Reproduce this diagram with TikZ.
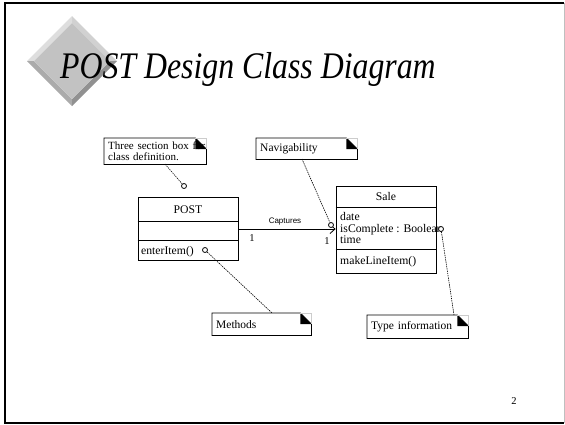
\documentclass[tikz,border=0pt]{standalone}
\usepackage{fontspec}
\setmainfont{Liberation Serif}
\newfontfamily\arialfont{Liberation Sans}
\usetikzlibrary{arrows.meta,backgrounds}
\newcommand{\umlfold}[1]{%
  \begin{scope}[on background layer]
    \filldraw[fill=white, draw=black, line width=0.8pt] (#1.north west) -- ([xshift=-11pt]#1.north east) -- ([yshift=-11pt]#1.north east) -- (#1.south east) -- (#1.south west) -- cycle;
    \fill ([xshift=-11pt]#1.north east) -- ([yshift=-11pt]#1.north east) -- ([xshift=-11pt,yshift=-11pt]#1.north east) -- cycle;
    \draw[black!20, line width=0.6pt] ([xshift=-11pt]#1.north east) -- (#1.north east) -- ([yshift=-11pt]#1.north east);
  \end{scope}}
\begin{document}
\begin{tikzpicture}[x=1pt,y=-1pt,
  umlnote/.style={rectangle, anchor=north west, inner xsep=4pt, inner ysep=1pt, align=left,
    font=\fontsize{11.5}{10.5}\selectfont},
  classbox/.style={rectangle, draw, line width=0.8pt, inner sep=0pt},
  classline/.style={line width=0.8pt},
  classtext/.style={font=\fontsize{11.7}{12}\selectfont, inner sep=0pt},
  pinc/.style={circle, draw, fill=white, line width=0.8pt, minimum size=5pt, inner sep=0pt},
  noteline/.style={line width=0.6pt, dash pattern=on 1.4pt off 0.9pt},
  assoc/.style={line width=0.8pt, -{Straight Barb[length=5pt,width=9pt]}},
  mult/.style={font=\fontsize{10.5}{12}\selectfont, inner sep=0pt, anchor=base},
]
\useasboundingbox (0,0) rectangle (565,424);
% slide frame
\draw[black!25, line width=1pt] (564,3) -- (564,423);
\draw[line width=2.6pt] (564,3) -- (5,3) -- (5,423) -- (564,423);
% bevelled diamond
\fill[black!18] (72,16) -- (117,61) -- (110,61) -- (72,23) -- cycle;
\fill[black!13] (72,16) -- (27,61) -- (34,61) -- (72,23) -- cycle;
\fill[black!33] (27,61) -- (72,106) -- (72,99) -- (34,61) -- cycle;
\fill[black!43] (117,61) -- (72,106) -- (72,99) -- (110,61) -- cycle;
\fill[black!24] (72,23) -- (110,61) -- (72,99) -- (34,61) -- cycle;
% title
\node[font=\fontsize{31.8}{36}\selectfont\itshape, anchor=base west, inner sep=0pt] (title) at (60,78) {\scalebox{1}[1.18]{POST Design Class Diagram}};
% notes
\node[umlnote, text width=94pt, minimum height=26pt, font=\fontsize{11}{10.5}\selectfont] (n1) at (104,138) {\mbox{Three section box for}\\class definition.};
\umlfold{n1}
\node[umlnote, text width=93pt, minimum height=21pt] (n2) at (256,138) {Navigability};
\umlfold{n2}
\node[umlnote, text width=91pt, minimum height=22pt] (n3) at (212,313) {Methods};
\umlfold{n3}
\node[umlnote, text width=93pt, minimum height=23pt] (n4) at (367,315) {Type information};
\umlfold{n4}
% POST class
\node[classbox, minimum width=100pt, minimum height=63pt] (post) at (188,229) {};
\draw[classline] ([yshift=-24pt]post.north west) -- ([yshift=-24pt]post.north east);
\draw[classline] ([yshift=-43pt]post.north west) -- ([yshift=-43pt]post.north east);
\node[classtext, anchor=base] (postname) at (188,213) {POST};
\node[classtext, anchor=base west] (postop) at (141,254.5) {enterItem()};
% Sale class
\node[classbox, minimum width=100pt, minimum height=87pt] (sale) at (386,229.5) {};
\draw[classline] ([yshift=-22pt]sale.north west) -- ([yshift=-22pt]sale.north east);
\draw[classline] ([yshift=-64pt]sale.north west) -- ([yshift=-64pt]sale.north east);
\node[classtext, anchor=base] (salename) at (386,200) {Sale};
\node[classtext, anchor=base west] (sa1) at (340,220.5) {date};
\node[classtext, anchor=base west] (sa2) at (340,232) {isComplete : Boolean};
\node[classtext, anchor=base west] (sa3) at (340,243.5) {time};
\node[classtext, anchor=base west] (sop) at (340,264) {makeLineItem()};
% association
\draw[assoc] (post.east) -- (post.east -| sale.west);
\node[font=\arialfont\fontsize{8}{10}\selectfont, inner sep=0pt, anchor=base] (cap) at (285,223) {Captures};
\node[mult] (m1) at (252,241) {1};
\node[mult] (m2) at (327,244) {1};
% note anchors and pins
\node[pinc] (c1) at (184,186) {};
\node[pinc] (c2) at (331,225) {};
\node[pinc] (c3) at (205,250) {};
\node[pinc] (c4) at (441,229) {};
\coordinate (n1p) at (165,164);
\coordinate (n2p) at (302,159);
\coordinate (n3p) at (272,313);
\coordinate (n4p) at (454,315);
\draw[noteline] (n1p) -- (c1);
\draw[noteline] (n2p) -- (c2);
\draw[noteline] (c3) -- (n3p);
\draw[noteline] (c4) -- (n4p);
% page number
\node[font=\fontsize{10.5}{12}\selectfont, inner sep=0pt, anchor=base] (pg) at (514,404) {2};
\end{tikzpicture}
\end{document}
